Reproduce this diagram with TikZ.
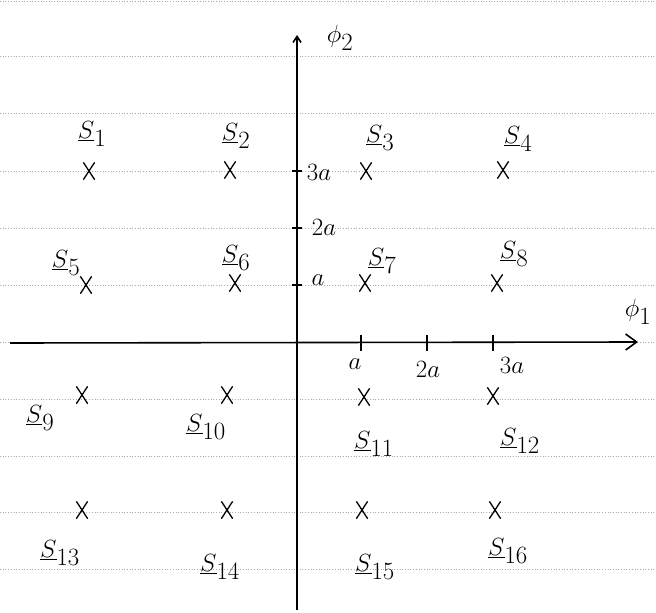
\documentclass[tikz,border=0pt]{standalone}
\usetikzlibrary{arrows.meta,shapes.misc}
\newcommand{\sv}[1]{\underline{S}_{\textstyle #1}}
\begin{document}
\begin{tikzpicture}[x=1pt,y=-1pt,
  rule/.style={gray!65, dotted, line width=0.7pt},
  axis/.style={line width=1.6pt, black},
  pt/.style={cross out, draw, line width=1.3pt, minimum width=10pt, minimum height=16pt, inner sep=0pt},
  lab/.style={font=\fontsize{26}{28}\selectfont, inner sep=0pt},
  tlab/.style={font=\fontsize{24}{26}\selectfont, inner sep=0pt},
  tick/.style={line width=1.3pt}]
\useasboundingbox (0,0) rectangle (656,613);
% ruled paper
\foreach \y in {1,56,113,171,228,285,342,399,456,512,569}
  \draw[rule] (0,\y) -- (656,\y);
% axes
\coordinate (xs) at (10,343);
\coordinate (xe) at (638,342);
\coordinate (ys) at (297,610);
\coordinate (ye) at (297,35);
\draw[axis,-{Straight Barb[length=11pt,width=16pt]}] (xs) -- (xe);
\draw[axis,-{Straight Barb[length=6pt,width=8pt]}] (ys) -- (ye);
% ticks
\foreach \x in {361,427,493} \draw[tick] (\x,335) -- (\x,351);
\foreach \y in {171,228,285} \draw[tick] (292,\y) -- (302,\y);
% tick labels
\node[tlab] (ta1) at (355,364) {$a$};
\node[tlab] (ta2) at (428,369) {$2a$};
\node[tlab] (ta3) at (512,365) {$3a$};
\node[tlab] (ya3) at (319,172) {$3a$};
\node[tlab] (ya2) at (324,227) {$2a$};
\node[tlab] (ya1) at (318,280) {$a$};
% axis labels
\node[font=\fontsize{34}{36}\selectfont, inner sep=0pt] (phi2) at (340,38) {$\phi_2$};
\node[font=\fontsize{34}{36}\selectfont, inner sep=0pt] (phi1) at (638,312) {$\phi_1$};
% constellation points
\node[pt] (p1) at (89,171) {};
\node[pt] (p2) at (230,170) {};
\node[pt] (p3) at (366,171) {};
\node[pt] (p4) at (503,170) {};
\node[pt] (p5) at (86,285) {};
\node[pt] (p6) at (235,283) {};
\node[pt] (p7) at (365,283) {};
\node[pt] (p8) at (497,283) {};
\node[pt] (p9) at (82,395) {};
\node[pt] (p10) at (227,395) {};
\node[pt] (p11) at (364,397) {};
\node[pt] (p12) at (493,396) {};
\node[pt] (p13) at (82,510) {};
\node[pt] (p14) at (227,510) {};
\node[pt] (p15) at (362,510) {};
\node[pt] (p16) at (495,510) {};
% labels
\node[lab] (s1) at (92,134) {$\sv{1}$};
\node[lab] (s2) at (236,136) {$\sv{2}$};
\node[lab] (s3) at (380,138) {$\sv{3}$};
\node[lab] (s4) at (518,139) {$\sv{4}$};
\node[lab] (s5) at (66,263) {$\sv{5}$};
\node[lab] (s6) at (236,258) {$\sv{6}$};
\node[lab] (s7) at (382,261) {$\sv{7}$};
\node[lab] (s8) at (514,254) {$\sv{8}$};
\node[lab] (s9) at (40,418) {$\sv{9}$};
\node[lab] (s10) at (206,427) {$\sv{10}$};
\node[lab] (s11) at (374,444) {$\sv{11}$};
\node[lab] (s12) at (520,441) {$\sv{12}$};
\node[lab] (s13) at (60,553) {$\sv{13}$};
\node[lab] (s14) at (220,567) {$\sv{14}$};
\node[lab] (s15) at (375,567) {$\sv{15}$};
\node[lab] (s16) at (508,551) {$\sv{16}$};
\end{tikzpicture}
\end{document}
